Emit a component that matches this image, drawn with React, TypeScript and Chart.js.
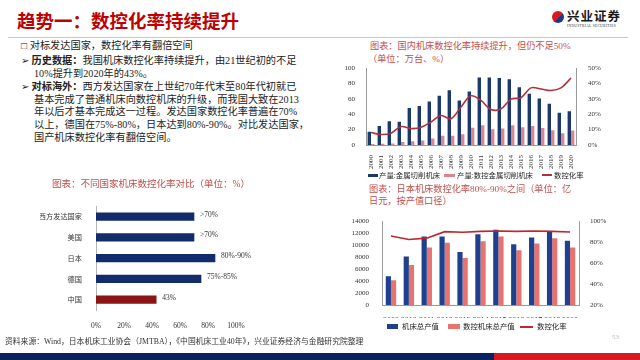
import React, { useEffect, useRef } from "react";
import { Chart, registerables } from "chart.js";
Chart.register(...registerables);

const SERIF = '"Liberation Serif", "Noto Sans CJK SC", serif';

// ---- Chart 1: 国内机床数控化率 ----
const years1 = ["2000","2001","2002","2003","2004","2005","2006","2007","2008","2009","2010","2011","2012","2013","2014","2015","2016","2017","2018","2019","2020"];
const cutProd1 = [17.1, 24.8, 30.8, 30.3, 48.3, 50.9, 56.8, 64.1, 71.4, 58.1, 69.7, 88.0, 88.0, 87.2, 85.5, 75.2, 66.7, 60.7, 53.8, 41.9, 44.0];
const ncProd1 = [1.2, 1.7, 2.0, 3.8, 5.0, 6.0, 8.5, 12.0, 12.0, 14.0, 22.6, 25.6, 20.5, 21.4, 25.6, 23.0, 24.8, 22.2, 19.2, 15.4, 18.8];
const ncRate1 = [8.1, 6.8, 7.7, 12.0, 10.7, 11.5, 15.0, 19.2, 17.1, 24.8, 32.0, 29.0, 23.1, 23.5, 29.9, 30.8, 37.2, 36.5, 35.5, 37.2, 43.6];
const series1 = ["产量:金属切削机床", "产量:数控金属切削机床", "数控化率"];

// ---- Chart 2: 不同国家机床数控化率对比 ----
const countries2 = ["西方发达国家", "美国", "日本", "德国", "中国"];
const rates2 = [70, 70, 85, 75, 43];
const rateLabels2 = [">70%", ">70%", "80%-90%", "75%-85%", "43%"];
const barColors2 = ["#112b6b", "#112b6b", "#112b6b", "#112b6b", "#8b1414"];

// ---- Chart 3: 日本机床数控化率 ----
const years3 = ["2009","2010","2011","2012","2013","2014","2015","2016","2017","2018","2019"];
const totalOutput3 = [4800, 8090, 11430, 11430, 8860, 11810, 12580, 10170, 11260, 12360, 10720];
const ncOutput3 = [4150, 6670, 9620, 10390, 7870, 10660, 11430, 9130, 10280, 11150, 9620];
const ncRate3 = [85.9, 82.5, 83.8, 90.0, 89.4, 90.3, 90.6, 90.3, 90.6, 90.3, 89.7];
const series3 = ["机床总产值", "数控机床总产值", "数控化率"];

const C1_BLUE = "#1b3a6b";
const C1_PINK = "#d9868e";
const C1_LINE = "#b0303a";
const C3_BLUE = "#1f3f8f";
const C3_PINK = "#e8736e";
const C3_LINE = "#c0272d";
const AXIS = "#9a9a9a";
const TICK = "#333";

function ChartBox(props: { left: number; top: number; width: number; height: number; make: () => any }) {
  const ref = useRef<HTMLCanvasElement | null>(null);
  useEffect(() => {
    const chart = new Chart(ref.current as HTMLCanvasElement, props.make());
    return () => chart.destroy();
  }, []);
  return (
    <div style={{ position: "absolute", left: props.left, top: props.top, width: props.width, height: props.height }}>
      <canvas ref={ref} width={props.width} height={props.height} style={{ display: "block" }} />
    </div>
  );
}

const tickFont = (size: number) => ({ family: SERIF, size });

function makeChart1() {
  return {
    type: "bar",
    data: {
      labels: years1,
      datasets: [
        { type: "line", label: series1[2], data: ncRate1, yAxisID: "y1", borderColor: C1_LINE, borderWidth: 1.6, pointRadius: 0, tension: 0.35, order: 0 },
        { type: "bar", label: series1[0], data: cutProd1, yAxisID: "y", backgroundColor: C1_BLUE, categoryPercentage: 0.68, barPercentage: 1, order: 1 },
        { type: "bar", label: series1[1], data: ncProd1, yAxisID: "y", backgroundColor: C1_PINK, categoryPercentage: 0.68, barPercentage: 1, order: 1 },
      ],
    },
    options: {
      animation: false,
      responsive: false,
      layout: { padding: { top: 7, left: 0, right: 0, bottom: 0 } },
      plugins: { legend: { display: false }, tooltip: { enabled: false } },
      scales: {
        x: {
          grid: { display: false },
          border: { color: AXIS },
          ticks: { font: tickFont(7), color: TICK, minRotation: 90, maxRotation: 90, padding: 2, autoSkip: false },
          afterFit: (s: any) => { s.height = 27; },
        },
        y: {
          position: "left", min: 0, max: 100,
          grid: { display: false },
          border: { color: AXIS },
          ticks: { stepSize: 20, font: tickFont(7), color: TICK, padding: 3, callback: (v: any) => String(v) },
          afterFit: (s: any) => { s.width = 28; },
        },
        y1: {
          position: "right", min: 0, max: 50,
          grid: { display: false },
          border: { color: AXIS },
          ticks: { stepSize: 10, font: tickFont(7), color: TICK, padding: 4, callback: (v: any) => v + "%" },
          afterFit: (s: any) => { s.width = 32; },
        },
      },
    },
  };
}

const barLabelPlugin = {
  id: "barLabels",
  afterDatasetsDraw(chart: any) {
    const ctx = chart.ctx;
    const meta = chart.getDatasetMeta(0);
    ctx.save();
    ctx.font = `7.5px ${SERIF}`;
    ctx.fillStyle = "#333";
    ctx.textBaseline = "middle";
    ctx.textAlign = "left";
    meta.data.forEach((bar: any, i: number) => {
      ctx.fillText(rateLabels2[i], bar.x + 6, bar.y - 2);
    });
    ctx.restore();
  },
};

function makeChart2() {
  return {
    type: "bar",
    data: {
      labels: countries2,
      datasets: [{ data: rates2, backgroundColor: barColors2, barThickness: 7.5 }],
    },
    plugins: [barLabelPlugin],
    options: {
      animation: false,
      responsive: false,
      indexAxis: "y",
      layout: { padding: { top: 6, left: 0, right: 19, bottom: 0 } },
      plugins: { legend: { display: false }, tooltip: { enabled: false } },
      scales: {
        x: {
          min: 0, max: 100,
          grid: { display: false },
          border: { display: false },
          ticks: { stepSize: 20, font: tickFont(7.5), color: TICK, padding: 4, callback: (v: any) => v + "%" },
          afterFit: (s: any) => { s.height = 18; },
        },
        y: {
          grid: { display: false },
          border: { color: "#b5b5b5" },
          ticks: { font: { family: '"Noto Sans CJK SC", serif', size: 7.2 }, color: TICK, padding: 6 },
          afterFit: (s: any) => { s.width = 56; },
        },
      },
    },
  };
}

function makeChart3() {
  return {
    type: "bar",
    data: {
      labels: years3,
      datasets: [
        { type: "line", label: series3[2], data: ncRate3, yAxisID: "y1", borderColor: C3_LINE, borderWidth: 1.6, pointRadius: 0, tension: 0, order: 0 },
        { type: "bar", label: series3[0], data: totalOutput3, yAxisID: "y", backgroundColor: C3_BLUE, categoryPercentage: 0.58, barPercentage: 1, order: 1 },
        { type: "bar", label: series3[1], data: ncOutput3, yAxisID: "y", backgroundColor: C3_PINK, categoryPercentage: 0.58, barPercentage: 1, order: 1 },
      ],
    },
    options: {
      animation: false,
      responsive: false,
      layout: { padding: { top: 6.5, left: 0, right: 0, bottom: 0 } },
      plugins: { legend: { display: false }, tooltip: { enabled: false } },
      scales: {
        x: {
          grid: { display: false },
          border: { color: AXIS },
          ticks: { font: tickFont(8), color: TICK, padding: 3, autoSkip: false, maxRotation: 0 },
          afterFit: (s: any) => { s.height = 13; },
        },
        y: {
          position: "left", min: 0, max: 14000,
          grid: { display: false },
          border: { color: AXIS },
          ticks: { stepSize: 2000, font: tickFont(7), color: TICK, padding: 5, callback: (v: any) => String(v) },
          afterFit: (s: any) => { s.width = 42; },
        },
        y1: {
          position: "right", min: 20, max: 100,
          grid: { display: false },
          border: { color: AXIS },
          ticks: { stepSize: 20, font: tickFont(7), color: TICK, padding: 3, callback: (v: any) => v + "%" },
          afterFit: (s: any) => { s.width = 33; },
        },
      },
    },
  };
}

const CJK = '"Liberation Serif", "Noto Sans CJK SC", serif';

function Line(props: { top: number; left: number; children: any; size?: number; color?: string; bold?: boolean }) {
  return (
    <div style={{ position: "absolute", top: props.top, left: props.left, fontSize: props.size ?? 10.2, lineHeight: 1, whiteSpace: "nowrap", color: props.color ?? "#222", fontFamily: CJK, fontWeight: props.bold ? 700 : 400 }}>
      {props.children}
    </div>
  );
}

function Swatch(props: { left: number; top: number; w: number; h: number; color: string }) {
  return <div style={{ position: "absolute", left: props.left, top: props.top, width: props.w, height: props.h, background: props.color }} />;
}

export default function App() {
  const red = "#c0504d";
  return (
    <div style={{ position: "fixed", left: 0, top: 0, width: 640, height: 360, overflow: "hidden", background: "#fff", fontFamily: CJK }}>
      {/* header */}
      <div style={{ position: "absolute", left: 17, top: 11, fontSize: 18.5, fontWeight: 700, color: "#c00000", fontFamily: '"Noto Sans CJK SC", sans-serif', lineHeight: 1, whiteSpace: "nowrap" }}>
        趋势一：数控化率持续提升
      </div>
      <div style={{ position: "absolute", left: 8, top: 37, width: 620, height: 1, background: "#c8c8c8" }} />
      <div style={{ position: "absolute", left: 552, top: 11, width: 12, height: 12, borderRadius: 6, background: "linear-gradient(135deg, #d71920 0 55%, #1b3a8c 55% 100%)" }} />
      <div style={{ position: "absolute", left: 567, top: 10, fontSize: 12.5, fontWeight: 700, color: "#1a1a1a", fontFamily: '"Noto Sans CJK SC", serif', lineHeight: 1, whiteSpace: "nowrap", letterSpacing: 1 }}>兴业证券</div>
      <div style={{ position: "absolute", left: 567, top: 25, fontSize: 3.6, color: "#333", fontFamily: SERIF, lineHeight: 1, whiteSpace: "nowrap", letterSpacing: 0.3 }}>INDUSTRIAL SECURITIES</div>

      {/* left text */}
      <Line top={41} left={21}>□ 对标发达国家，数控化率有翻倍空间</Line>
      <Line top={55.5} left={21}>➢ <b>历史数据：</b>我国机床数控化率持续提升，由21世纪初的不足</Line>
      <Line top={68.5} left={34}>10%提升到2020年的43%。</Line>
      <Line top={81.5} left={21}>➢ <b>对标海外：</b>西方发达国家在上世纪70年代末至80年代初就已</Line>
      <Line top={95} left={34}>基本完成了普通机床向数控机床的升级，而我国大致在2013</Line>
      <Line top={107} left={34}>年以后才基本完成这一过程。发达国家数控化率普遍在70%</Line>
      <Line top={120} left={34}>以上，德国在75%-80%，日本达到80%-90%。对比发达国家，</Line>
      <Line top={133} left={34}>国产机床数控化率有翻倍空间。</Line>

      {/* chart 1 */}
      <Line top={42} left={370} size={9.2} color={red}>图表：国内机床数控化率持续提升，但仍不足50%</Line>
      <Line top={54.5} left={368} size={9.2} color={red}>（单位：万台、%）</Line>
      <ChartBox left={338} top={60} width={270} height={112} make={makeChart1} />
      <Swatch left={368} top={174} w={10} h={2.5} color={C1_BLUE} />
      <Line top={171.5} left={379} size={7.4}>{series1[0]}</Line>
      <Swatch left={444} top={174} w={11} h={2.5} color={C1_PINK} />
      <Line top={171.5} left={457} size={7.4}>{series1[1]}</Line>
      <Swatch left={542} top={174} w={10} h={1.6} color={C1_LINE} />
      <Line top={171.5} left={554} size={7.4}>{series1[2]}</Line>

      {/* chart 2 */}
      <Line top={180} left={52} size={9.5} color={red}>图表：不同国家机床数控化率对比（单位：%）</Line>
      <ChartBox left={40} top={196} width={215} height={132} make={makeChart2} />

      {/* chart 3 */}
      <Line top={184.5} left={369} size={9.2} color={red}>图表：日本机床数控化率80%-90%之间（单位：亿</Line>
      <Line top={197} left={369} size={9.2} color={red}>日元，按产值口径）</Line>
      <ChartBox left={340} top={212} width={272} height={106} make={makeChart3} />
      <Swatch left={387} top={324} w={11} h={5} color={C3_BLUE} />
      <Line top={322.5} left={402} size={7.4}>{series3[0]}</Line>
      <Swatch left={448} top={324} w={12} h={5} color={C3_PINK} />
      <Line top={322.5} left={463} size={7.4}>{series3[1]}</Line>
      <Swatch left={520} top={326} w={13} h={1.6} color={C3_LINE} />
      <Line top={322.5} left={537} size={7.4}>{series3[2]}</Line>

      {/* footer */}
      <Line top={338} left={5} size={7.8} color="#333">资料来源：Wind，日本机床工业协会（JMTBA），《中国机床工业40年》，兴业证券经济与金融研究院整理</Line>
      <div style={{ position: "absolute", left: 612, top: 333, fontSize: 7, color: "#bbb", fontFamily: SERIF }}>53</div>
      <div style={{ position: "absolute", left: 0, top: 353, width: 494, height: 7, background: "#0b2260" }} />
      <div style={{ position: "absolute", left: 494, top: 353, width: 146, height: 7, background: "#d71920" }} />
    </div>
  );
}
